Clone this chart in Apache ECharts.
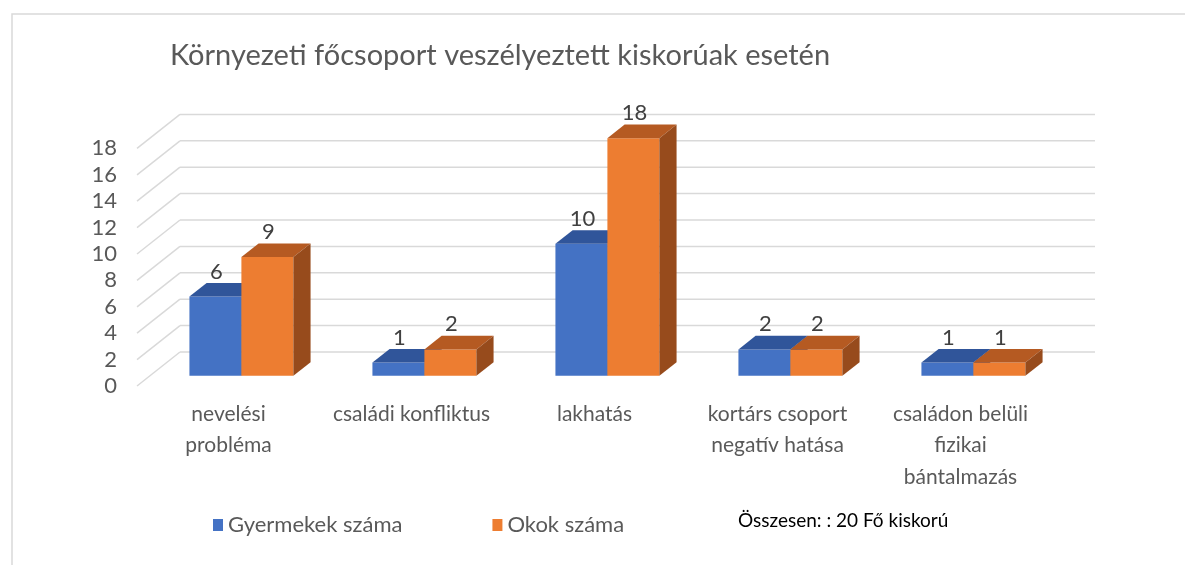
<!DOCTYPE html>
<html>
<head>
<meta charset="utf-8">
<script src="https://cdn.jsdelivr.net/npm/echarts@6/dist/echarts.min.js"></script>
<style>
html, body { margin: 0; padding: 0; background: #fff; }
#chart { width: 1185px; height: 565px; }
</style>
</head>
<body>
<div id="chart"></div>
<script>
(function () {
    const categories = ['nevelési\nprobléma', 'családi konfliktus', 'lakhatás', 'kortárs csoport\nnegatív hatása', 'családon belüli\nfizikai\nbántalmazás'];
    const gyermekek = [6, 1, 10, 2, 1];
    const okok = [9, 2, 18, 2, 1];
    const yTicks = [0, 2, 4, 6, 8, 10, 12, 14, 16, 18];

    // 3D depth of the plot (front plane -> back wall)
    const D = [43, -34];
    const font = 'Lato, "Open Sans", sans-serif';

    function gridItem(params, api) {
        const cs = params.coordSys;
        const y = api.coord([0, api.value(1)])[1];
        const xL = cs.x, xR = cs.x + cs.width;
        const st = { stroke: '#d9d9d9', lineWidth: 1.5 };
        return {
            type: 'group',
            children: [
                { type: 'line', shape: { x1: xL, y1: y, x2: xL + D[0], y2: y + D[1] }, style: st },
                { type: 'line', shape: { x1: xL + D[0], y1: y + D[1], x2: xR + D[0], y2: y + D[1] }, style: st }
            ]
        };
    }

    function barItem(side, colors) {
        return function (params, api) {
            const i = api.value(0), v = api.value(1);
            const top = api.coord([i, v]);
            const base = api.coord([i, 0]);
            const bw = api.size([1, 0])[0] * 0.284;
            const x0 = top[0] + (side === 0 ? -bw : 0) + D[0] * 0.3;
            const x1 = x0 + bw;
            const yT = top[1] + D[1] * 0.3, yB = base[1] + D[1] * 0.3;
            const dx = D[0] * 0.4, dy = D[1] * 0.4;
            return {
                type: 'group',
                children: [
                    { type: 'rect', shape: { x: x0, y: yT, width: bw, height: yB - yT }, style: { fill: colors[0] } },
                    { type: 'polygon', shape: { points: [[x0, yT], [x1, yT], [x1 + dx, yT + dy], [x0 + dx, yT + dy]] }, style: { fill: colors[1] } },
                    { type: 'polygon', shape: { points: [[x1, yT], [x1 + dx, yT + dy], [x1 + dx, yB + dy], [x1, yB]] }, style: { fill: colors[2] } },
                    {
                        type: 'text',
                        style: {
                            text: String(v), x: (x0 + x1) / 2 + 1, y: yT - 25,
                            align: 'center', verticalAlign: 'middle',
                            fontFamily: font, fontSize: 22, fill: '#404040'
                        }
                    }
                ]
            };
        };
    }

    const option = {
        animation: false,
        title: {
            text: 'Környezeti főcsoport veszélyeztett kiskorúak esetén',
            left: 170, top: 41, padding: 0,
            textStyle: { fontFamily: font, fontSize: 29, fontWeight: 'normal', color: '#595959' }
        },
        legend: {
            data: ['Gyermekek száma', 'Okok száma'],
            left: 213, top: 514, padding: 0,
            icon: 'rect', itemWidth: 10, itemHeight: 12, itemGap: 90,
            textStyle: { fontFamily: font, fontSize: 22, color: '#595959' }
        },
        grid: { left: 137, right: 133, top: 148.4, bottom: 179 },
        xAxis: {
            type: 'category',
            data: categories,
            axisLine: { show: false },
            axisTick: { show: false },
            axisLabel: { margin: 12, fontFamily: font, fontSize: 21, color: '#595959', lineHeight: 31.5, interval: 0 }
        },
        yAxis: {
            type: 'value', min: 0, max: 18, interval: 2,
            splitLine: { show: false },
            axisLabel: { margin: 20, fontFamily: font, fontSize: 22, color: '#595959' }
        },
        graphic: [
            { type: 'rect', shape: { x: 12, y: 14, width: 1300, height: 700 }, style: { fill: 'none', stroke: '#d9d9d9', lineWidth: 1.5 }, z: -10 },
            { type: 'text', left: 738, top: 511, style: { text: 'Összesen: : 20 Fő kiskorú', fontFamily: font, fontSize: 19, fill: '#000' } }
        ],
        series: [
            { type: 'custom', name: 'grid', renderItem: gridItem, data: yTicks.map(v => [0, v]), z: 1, silent: true },
            { type: 'custom', name: 'Gyermekek száma', itemStyle: { color: '#4472c4' }, renderItem: barItem(0, ['#4472c4', '#30559a', '#2a4a86']), data: gyermekek.map((v, i) => [i, v]), z: 2 },
            { type: 'custom', name: 'Okok száma', itemStyle: { color: '#ed7d31' }, renderItem: barItem(1, ['#ed7d31', '#b55a22', '#974b1c']), data: okok.map((v, i) => [i, v]), z: 3 }
        ]
    };

    const myChart = echarts.init(document.getElementById('chart'));
    myChart.setOption(option);
}());
</script>
</body>
</html>
